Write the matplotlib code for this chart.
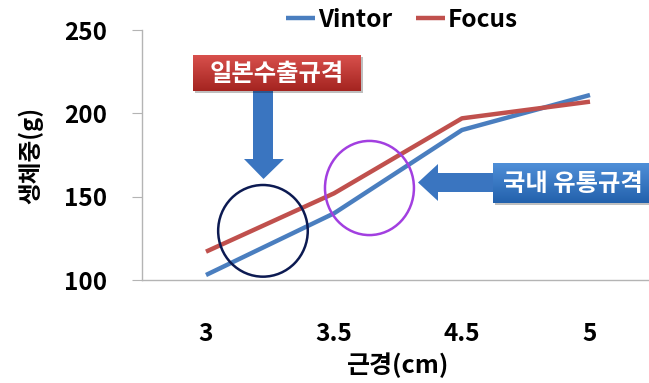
import matplotlib
matplotlib.use('Agg')
import matplotlib.pyplot as plt
import numpy as np
from matplotlib.patches import Ellipse, Polygon, Rectangle

plt.rcParams['font.family'] = ['Noto Sans CJK KR', 'DejaVu Sans']
plt.rcParams['font.weight'] = 'bold'

# 근경별 생체중
sizes = ['3', '3.5', '4.5', '5']
vintor = [103, 140, 190, 211]
focus = [117, 152, 197, 207]

W, H = 649, 383
fig = plt.figure(figsize=(W / 100, H / 100), dpi=100)

def fx(px):
    return px / W

def fy(py):
    return 1 - py / H

ax = fig.add_axes([fx(142), fy(280), fx(654) - fx(142), fy(30) - fy(280)])
xs = np.arange(len(sizes))
ax.plot(xs, vintor, color='#4a7ebf', lw=3.2, label='Vintor', solid_capstyle='butt')
ax.plot(xs, focus, color='#c0504d', lw=3.2, label='Focus', solid_capstyle='butt')

ax.set_xlim(-0.5, len(sizes) - 0.5)
ax.set_ylim(100, 250)
ax.set_yticks([100, 150, 200, 250])
ax.set_xticks(xs)
ax.set_xticklabels(sizes)
for s in ['top', 'right']:
    ax.spines[s].set_visible(False)
for s in ['left', 'bottom']:
    ax.spines[s].set_color('#b4b4b4')
    ax.spines[s].set_linewidth(1)
ax.spines['bottom'].set_clip_on(False)
ax.tick_params(axis='y', length=7, color='#b4b4b4', pad=18, labelsize=17.5)
ax.tick_params(axis='x', length=0, pad=30, labelsize=17.5)
ax.set_xlabel('근경(cm)', fontsize=18, fontweight='bold', labelpad=5)
ax.set_ylabel('생체중(g)', fontsize=17, fontweight='bold', labelpad=15)

leg = ax.legend(loc='center', bbox_to_anchor=(fx(402), fy(20)), bbox_transform=fig.transFigure,
                ncol=2, frameon=False, fontsize=17.5, handlelength=1.2, handletextpad=0.1,
                columnspacing=1.0)
for t in leg.get_texts():
    t.set_fontweight('bold')

# 강조 원
ax.add_patch(Ellipse((0.445, 129.5), 0.70, 55, fill=False, ec='#0c1a52', lw=1.8, zorder=5))
ax.add_patch(Ellipse((1.277, 155.2), 0.695, 56.5, fill=False, ec='#a23fe0', lw=1.8, zorder=5))


def gradient_box(x0, y0, x1, y1, top, bottom, text):
    # 그림자
    fig.patches.append(Rectangle((fx(x0 + 2), fy(y1 + 2)), fx(x1) - fx(x0), fy(y0) - fy(y1),
                                 transform=fig.transFigure, fc='#000000', alpha=0.25, zorder=3))
    bax = fig.add_axes([fx(x0), fy(y1), fx(x1) - fx(x0), fy(y0) - fy(y1)], zorder=4)
    grad = np.linspace(0, 1, 64)[:, None]
    c0 = np.array(matplotlib.colors.to_rgb(top))
    c1 = np.array(matplotlib.colors.to_rgb(bottom))
    img = c0[None, None, :] * (1 - grad[:, :, None]) + c1[None, None, :] * grad[:, :, None]
    bax.imshow(img, aspect='auto', extent=[0, 1, 0, 1])
    bax.set_axis_off()
    bax.text(0.5 if x1 < W else 0.06, 0.47, text, color='white', fontsize=17.5, fontweight='bold',
             ha='center' if x1 < W else 'left', va='center', transform=bax.transAxes)


def arrow(points, color):
    pts = [(fx(x), fy(y)) for x, y in points]
    fig.patches.append(Polygon(pts, closed=True, transform=fig.transFigure, fc=color, ec='none',
                               zorder=3))


# 일본수출규격
arrow([(253, 91), (273, 91), (273, 159), (284, 159), (263.5, 179), (244, 159), (253, 159)], '#3a75c0')
gradient_box(193, 55, 361, 91, '#d8504c', '#a42420', '일본수출규격')

# 국내 유통규격
arrow([(494, 173), (438, 173), (438, 164), (418, 182.5), (438, 201), (438, 192), (494, 192)], '#3a75c0')
gradient_box(493, 163, 660, 203, '#4f8fd8', '#2361ac', '국내 유통규격')

fig.savefig('out.png', dpi=100)
